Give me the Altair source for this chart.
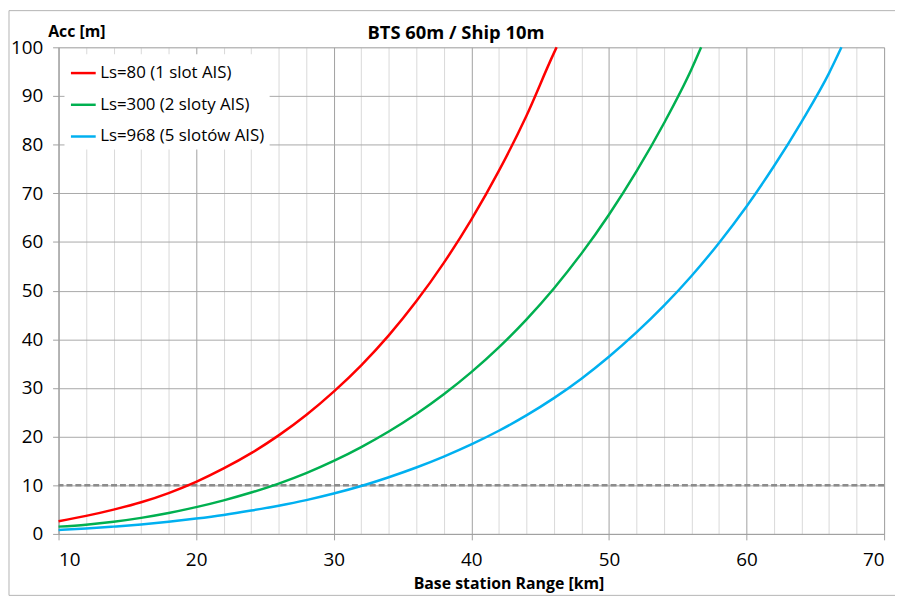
import altair as alt
import pandas as pd

# ---- data ----
red_x = [10, 12, 14, 16, 18, 20, 22, 24, 26, 28, 30, 32, 34, 36, 38, 40, 42, 44, 46, 46.2]
red_y = [2.6, 3.7, 5.0, 6.5, 8.4, 10.7, 13.45, 16.6, 20.25, 24.45, 29.25, 34.65, 40.8, 47.8, 55.7, 64.6, 74.6, 85.9, 98.8, 100]

green_x = [10, 12, 14, 16, 18, 20, 22, 24, 26, 28, 30, 32, 34, 36, 38, 40, 42, 44, 46, 48, 50, 52, 54, 56, 56.7]
green_y = [1.5, 1.9, 2.5, 3.3, 4.3, 5.5, 6.9, 8.5, 10.35, 12.5, 15.0, 17.85, 21.05, 24.65, 28.7, 33.25, 38.35, 44.05, 50.45, 57.6, 65.6, 74.5, 84.4, 95.5, 100]

blue_x = [10, 12, 14, 16, 18, 20, 22, 24, 26, 28, 30, 32, 34, 36, 38, 40, 42, 44, 46, 48, 50, 52, 54, 56, 58, 60, 62, 64, 66, 66.9]
blue_y = [0.8, 1.1, 1.5, 1.95, 2.5, 3.15, 3.9, 4.8, 5.8, 6.95, 8.3, 9.85, 11.65, 13.65, 15.9, 18.4, 21.2, 24.35, 27.9, 31.9, 36.4, 41.4, 46.9, 53.0, 59.8, 67.3, 75.6, 84.7, 94.7, 100]

series_names = ["Ls=80 (1 slot AIS)", "Ls=300 (2 sloty AIS)", "Ls=968 (5 slotów AIS)"]
series_colors = ["#ff0000", "#00b050", "#00b0f0"]
threshold = [10]
chart_title = ["BTS 60m / Ship 10m"]

x_ticks = list(range(10, 71, 2))
y_ticks = list(range(0, 101, 10))

rows = []
for name, xs, ys in zip(series_names, [red_x, green_x, blue_x], [red_y, green_y, blue_y]):
    for i, (a, b) in enumerate(zip(xs, ys)):
        rows.append({"series": name, "range": a, "acc": b, "order": i})
df = pd.DataFrame(rows)
thr_df = pd.DataFrame({"acc": threshold})
frame_df = pd.DataFrame({"k": [0]})
title_df = pd.DataFrame({"t": chart_title})

FONT = "Open Sans"

x_scale = alt.Scale(domain=[10, 70], nice=False, zero=False)
y_scale = alt.Scale(domain=[0, 100], nice=False)

x_axis = alt.Axis(
    values=x_ticks,
    labelExpr="datum.value % 10 === 0 ? datum.label : ''",
    grid=True,
    gridColor=alt.condition("datum.value % 10 === 0", alt.value("#a0a0a0"), alt.value("#d9d9d9")),
    gridWidth=1,
    tickOpacity=alt.condition("datum.value % 10 === 0", alt.value(1), alt.value(0)),
    tickSize=6,
    tickColor="#a0a0a0",
    domainColor="#a0a0a0",
    labelFont=FONT,
    labelFontSize=19,
    labelColor="black",
    labelPadding=11,
    title="Base station Range [km]",
    titleFont=FONT,
    titleFontSize=16,
    titleFontWeight="bold",
    titleColor="black",
    titleX=454,
    titleY=55,
    titleAlign="center",
    titleBaseline="alphabetic",
)

y_axis = alt.Axis(
    values=y_ticks,
    grid=True,
    gridColor="#a8a8a8",
    gridWidth=1,
    tickSize=6,
    tickColor="#a0a0a0",
    domainColor="#a0a0a0",
    labelFont=FONT,
    labelFontSize=19,
    labelColor="black",
    labelPadding=10,
    title="Acc [m]",
    titleFont=FONT,
    titleFontSize=16,
    titleFontWeight="bold",
    titleColor="black",
    titleAngle=0,
    titleAlign="left",
    titleBaseline="alphabetic",
    titleX=-11,
    titleY=-11,
)

frame = alt.Chart(frame_df).mark_rect(
    fillOpacity=0, stroke="#b4b4b4", strokeWidth=1
).encode(
    x=alt.value(-50), x2=alt.value(850), y=alt.value(-37), y2=alt.value(553)
)

title = alt.Chart(title_df).mark_text(
    font=FONT, fontSize=18.5, fontWeight="bold", color="black",
    align="center", baseline="alphabetic"
).encode(text="t:N", x=alt.value(401), y=alt.value(-8))

lines = alt.Chart(df).mark_line(strokeWidth=2.5, interpolate="monotone").encode(
    x=alt.X("range:Q", scale=x_scale, axis=x_axis),
    y=alt.Y("acc:Q", scale=y_scale, axis=y_axis),
    color=alt.Color(
        "series:N",
        scale=alt.Scale(domain=series_names, range=series_colors),
        sort=series_names,
        legend=alt.Legend(
            orient="none",
            legendX=6,
            legendY=7,
            title=None,
            symbolType="stroke",
            symbolSize=625,
            symbolStrokeWidth=2.5,
            labelFont=FONT,
            labelFontSize=17,
            labelColor="black",
            labelOffset=3,
            labelLimit=400,
            fillColor="white",
            padding=5,
            rowPadding=10,
        ),
    ),
    order="order:Q",
)

rule = alt.Chart(thr_df).mark_rule(
    strokeDash=[6, 3], color="#8c8c8c", strokeWidth=2.5
).encode(y=alt.Y("acc:Q", scale=y_scale))

chart = alt.layer(frame, rule, lines, title).properties(
    width=833,
    height=491,
    autosize=alt.AutoSizeParams(type="none"),
    padding={"left": 51, "top": 37, "right": 11, "bottom": 62},
).configure_view(stroke="#a0a0a0", strokeWidth=1).configure(background="white")

chart.save("out.html", embed_options={"renderer": "svg", "actions": False})
